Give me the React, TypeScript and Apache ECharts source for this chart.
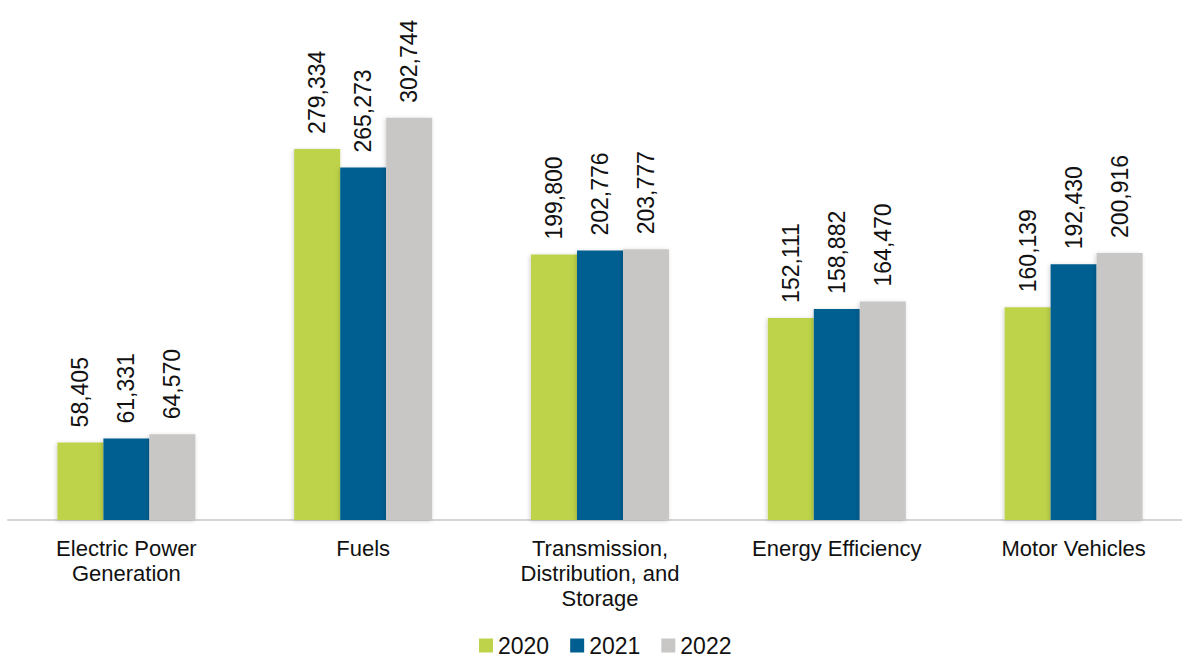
import React, { useEffect, useRef } from "react";
import * as echarts from "echarts";

const categories = [
  "Electric Power\nGeneration",
  "Fuels",
  "Transmission,\nDistribution, and\nStorage",
  "Energy Efficiency",
  "Motor Vehicles",
];
const seriesNames = ["2020", "2021", "2022"];
const values2020 = [58405, 279334, 199800, 152111, 160139];
const values2021 = [61331, 265273, 202776, 158882, 192430];
const values2022 = [64570, 302744, 203777, 164470, 200916];
const colors = ["#BED34A", "#005E91", "#C8C7C6"];

export default function App() {
  const ref = useRef<HTMLDivElement>(null);
  useEffect(() => {
    if (!ref.current) return;
    const chart = echarts.init(ref.current, null, { renderer: "svg" });
    const font = "'Liberation Sans', Arial, sans-serif";
    const data = [values2020, values2021, values2022];
    chart.setOption({
      animation: false,
      textStyle: { fontFamily: font },
      grid: { left: 8, right: 8, top: 55, bottom: 137, containLabel: false },
      legend: {
        bottom: -5,
        left: 474,
        itemWidth: 14,
        itemHeight: 14,
        itemGap: 21,
        icon: "rect",
        textStyle: { fontSize: 23, color: "#111", fontFamily: font },
        data: seriesNames,
      },
      xAxis: {
        type: "category",
        data: categories,
        axisLine: { lineStyle: { color: "#D4D4D4", width: 2 } },
        axisTick: { show: false },
        axisLabel: {
          fontSize: 22,
          color: "#111",
          fontFamily: font,
          margin: 16,
          lineHeight: 25,
          interval: 0,
        },
      },
      yAxis: {
        type: "value",
        min: 0,
        max: 350000,
        show: false,
        splitLine: { show: false },
      },
      series: seriesNames.map((name, i) => ({
        name,
        type: "bar",
        data: data[i],
        barWidth: 46,
        barGap: "0%",
        itemStyle: {
          color: colors[i],
          shadowColor: "rgba(0,0,0,0.18)",
          shadowBlur: 4,
          shadowOffsetX: -1,
          shadowOffsetY: 1,
        },
        label: {
          show: true,
          position: "top",
          rotate: 90,
          align: "left",
          verticalAlign: "middle",
          distance: 15,
          fontSize: 23,
          color: "#111",
          fontFamily: font,
          formatter: (p: any) => Number(p.value).toLocaleString("en-US"),
        },
      })),
    });
    return () => chart.dispose();
  }, []);
  return (
    <div
      ref={ref}
      style={{ position: "fixed", left: 0, top: 0, width: 1200, height: 657, background: "#fff" }}
    />
  );
}
